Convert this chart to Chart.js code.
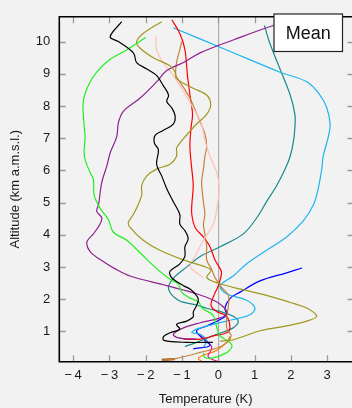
<!DOCTYPE html>
<html><head><meta charset="utf-8">
<script src="https://cdn.jsdelivr.net/npm/chart.js@4/dist/chart.umd.min.js"></script>
<style>html,body{margin:0;padding:0;background:#f2f2f2;}#wrap{width:352px;height:408px;position:relative;}</style>
</head><body><div id="wrap"><canvas id="c"></canvas></div>
<script>
const xTicks = [-4,-3,-2,-1,0,1,2,3];
const yTicks = [1,2,3,4,5,6,7,8,9,10];
const xTitle = 'Temperature (K)';
const yTitle = 'Altitude (km a.m.s.l.)';
const panelLabel = 'Mean';

// [temperature (K), altitude (km)]
const black = [[-2.66,10.62],[-2.98,10.15],[-2.75,10.0],[-2.34,9.65],[-2.25,9.35],[-1.97,9.15],[-1.70,8.95],[-1.52,8.64],[-1.37,8.34],[-1.42,8.14],[-1.28,7.94],[-1.19,7.69],[-1.24,7.44],[-1.52,7.24],[-1.74,7.09],[-1.76,6.85],[-1.65,6.64],[-1.70,6.19],[-1.56,5.83],[-1.42,5.43],[-1.24,5.03],[-1.06,4.63],[-1.06,4.33],[-0.92,4.13],[-0.83,3.88],[-0.92,3.63],[-0.92,3.33],[-1.06,3.10],[-1.33,2.87],[-1.33,2.75],[-1.24,2.62],[-0.96,2.42],[-0.78,2.32],[-0.64,2.17],[-0.55,2.00],[-0.60,1.80],[-0.69,1.60],[-0.69,1.45],[-0.87,1.32],[-1.15,1.22],[-1.06,1.07],[-1.33,0.96],[-1.51,0.84],[-1.50,0.72],[-0.87,0.66],[-0.15,0.66]];
const olive = [[-1.56,10.62],[-2.07,10.25],[-2.25,10.0],[-2.16,9.8],[-1.79,9.5],[-1.33,9.25],[-1.19,9.05],[-1.15,8.85],[-0.69,8.55],[-0.32,8.34],[-0.21,8.04],[-0.32,7.74],[-0.60,7.44],[-0.87,7.1],[-1.06,6.85],[-1.15,6.69],[-1.15,6.44],[-1.33,6.19],[-1.70,6.04],[-1.97,5.83],[-2.11,5.53],[-2.11,5.23],[-2.25,4.83],[-2.34,4.63],[-2.48,4.38],[-2.43,4.23],[-2.07,3.83],[-1.61,3.52],[-0.96,3.22],[-0.40,3.02],[-0.20,2.9],[-0.32,2.67],[0.05,2.48],[0.41,2.37],[1.33,2.12],[2.07,1.87],[2.45,1.72],[2.71,1.47],[2.44,1.32],[1.88,1.17],[1.15,1.02],[0.60,0.81],[0.32,0.72],[0.05,0.7]];
const green = [[-2.0,10.13],[-2.52,9.75],[-2.98,9.45],[-3.35,9.05],[-3.58,8.64],[-3.72,8.14],[-3.70,7.44],[-3.67,7.04],[-3.69,6.44],[-3.53,5.93],[-3.44,5.73],[-3.42,5.23],[-3.26,4.83],[-3.03,4.48],[-2.89,4.08],[-2.52,3.83],[-2.1,3.38],[-1.70,2.95],[-1.33,2.62],[-1.10,2.47],[-1.01,2.22],[-0.80,2.05],[-0.55,1.92],[-0.44,1.72],[-0.14,1.5],[-0.06,1.2],[0.05,0.86],[0.32,0.66],[0.37,0.51],[0.18,0.31],[-0.18,0.17],[-0.37,0.19],[-0.41,0.33]];
const purple = [[2.6,10.83],[1.52,10.5],[0.41,10.05],[-0.50,9.65],[-0.96,9.35],[-1.42,9.1],[-1.70,8.75],[-2.16,8.24],[-2.61,7.84],[-2.75,7.49],[-2.80,7.04],[-2.98,6.54],[-3.07,6.14],[-3.21,5.63],[-3.30,4.93],[-3.35,4.73],[-3.21,4.53],[-3.26,4.33],[-3.44,4.03],[-3.62,3.78],[-3.53,3.48],[-3.17,3.17],[-2.85,2.95],[-2.43,2.72],[-1.42,2.42],[-0.60,2.17],[-0.1,1.95],[0.15,1.75],[0.23,1.57],[0.05,1.42],[-0.50,1.27],[-0.96,1.11],[-1.24,0.91],[-1.10,0.8],[-0.60,0.76]];
const red = [[-1.28,10.68],[-1.06,10.25],[-0.92,9.75],[-0.85,8.95],[-0.78,8.34],[-0.71,7.74],[-0.75,7.34],[-0.78,6.9],[-0.78,6.64],[-0.73,6.04],[-0.69,5.53],[-0.73,4.93],[-0.73,4.63],[-0.64,4.23],[-0.41,3.93],[-0.23,3.63],[-0.09,3.22],[0.05,2.95],[0.09,2.82],[0,2.42],[-0.12,2.12],[-0.2,1.8],[-0.05,1.62],[0.23,1.47],[0.32,1.11],[0.23,0.96],[-0.14,0.86],[-0.50,0.76],[-0.96,0.76]];
const pink = [[-1.72,10.15],[-1.70,9.75],[-1.52,9.35],[-1.24,8.95],[-0.96,8.45],[-0.69,7.94],[-0.46,7.44],[-0.37,6.94],[-0.23,6.44],[-0.04,5.93],[0.02,5.43],[-0.05,4.73],[-0.14,4.33],[-0.41,3.83],[-0.60,3.42],[-0.78,3.02],[-0.69,2.9],[-0.41,2.67]];
const peru = [[-1.01,10.0],[-1.06,9.75],[-1.15,9.35],[-1.17,8.95],[-1.06,8.75],[-0.78,8.24],[-0.55,7.64],[-0.37,7.14],[-0.32,6.74],[-0.37,6.44],[-0.41,6.04],[-0.46,5.63],[-0.41,5.03],[-0.37,4.63],[-0.41,4.33],[-0.37,4.03],[-0.32,3.63],[-0.32,3.22],[-0.18,2.92],[-0.09,2.67],[0.09,2.37],[0.28,2.12],[0.28,1.82],[0.23,1.42],[0.23,1.11],[0.35,0.85],[0.1,0.55],[-0.5,0.35],[-1.2,0.15],[-1.55,0.1]];
const sky = [[-1.24,10.43],[0.23,9.74],[1.70,9.05],[2.44,8.75],[2.80,8.34],[2.99,7.94],[3.08,7.44],[3.03,7.04],[2.89,6.44],[2.85,6.04],[2.75,5.43],[2.62,4.93],[2.34,4.43],[1.88,3.93],[1.33,3.52],[0.8,3.12],[0.41,2.72],[0.05,2.42],[0.23,2.17],[0.78,1.97],[1.01,1.72],[0.87,1.52],[0.41,1.37],[-0.14,1.22],[-0.60,1.07],[-0.73,0.96],[-0.5,0.91],[-0.32,0.71],[-0.41,0.51]];
const teal = [[1.27,10.5],[1.42,9.95],[1.70,9.15],[1.98,8.34],[2.11,7.74],[2.11,7.34],[2.07,6.9],[1.98,6.44],[1.84,6.04],[1.61,5.53],[1.33,5.03],[1.06,4.53],[0.69,4.03],[0.05,3.63],[-0.50,3.33],[-0.85,3.02],[-1.24,2.65],[-1.37,2.32],[-1.10,1.97],[-0.60,1.82],[-0.32,1.72],[0.32,1.52],[0.55,1.32],[0.41,1.11],[-0.05,0.91],[-0.60,0.66],[-0.92,0.53]];
const blue = [[2.31,2.97],[1.88,2.82],[1.15,2.57],[0.60,2.22],[0.32,2.02],[0.18,1.72],[0.23,1.52],[0.05,1.37],[-0.32,1.17],[-0.60,1.02],[-0.41,0.76],[-0.23,0.56],[-0.69,0.46]];
const magenta = [[-0.60,0.96],[-0.37,0.76],[-0.18,0.51],[-0.28,0.21],[0.0,0.06]];
const orange = [[0.32,0.85],[0.23,0.66],[-0.05,0.41],[-0.41,0.26],[-0.55,0.16],[-0.45,0.06]];
const sienna = [[-1.56,0.11],[-1.20,0.14]];

const seriesList = [
  ['Profile 1', black, '#000000', 1.2],
  ['Profile 2', olive, '#a0981e', 1.2],
  ['Profile 3', green, '#1ef01e', 1.2],
  ['Profile 4', purple, '#8e1f8e', 1.2],
  ['Profile 5', pink, '#ffc0b8', 1.2],
  ['Profile 6', peru, '#c8803c', 1.2],
  ['Profile 7', red, '#ff0000', 1.2],
  ['Profile 8', sky, '#1eb4f0', 1.2],
  ['Profile 9', teal, '#178a8a', 1.2],
  ['Profile 10', blue, '#0000ff', 1.2],
  ['Profile 11', magenta, '#f0109a', 1.2],
  ['Profile 12', orange, '#ff8000', 1.2],
  ['Profile 13', sienna, '#a0602a', 2.5]
];

const FONT = "'Liberation Sans', Arial, Helvetica, sans-serif";
const fmt = v => v < 0 ? '\u2212\u2009' + Math.abs(v) : String(v);

const framePlugin = {
  id: 'frame',
  beforeDraw(chart) {
    const c = chart.ctx; c.save(); c.fillStyle = '#f2f2f2'; c.fillRect(0, 0, chart.width, chart.height); c.restore();
  },
  afterDraw(chart) {
    const {ctx, chartArea: a, scales: {x, y}} = chart;
    ctx.save();
    ctx.strokeStyle = '#9a9a9a'; ctx.lineWidth = 1.3;
    const L = 6.5;
    xTicks.forEach(v => {
      const px = Math.round(x.getPixelForValue(v)) + 0.5;
      ctx.beginPath(); ctx.moveTo(px, a.top); ctx.lineTo(px, a.top + L);
      ctx.moveTo(px, a.bottom); ctx.lineTo(px, a.bottom - L); ctx.stroke();
    });
    yTicks.forEach(v => {
      const py = Math.round(y.getPixelForValue(v)) + 0.5;
      ctx.beginPath(); ctx.moveTo(a.left, py); ctx.lineTo(a.left + L, py);
      ctx.moveTo(a.right + 2, py); ctx.lineTo(a.right + 2 - L, py); ctx.stroke();
    });
    ctx.strokeStyle = '#000'; ctx.lineWidth = 1.6;
    ctx.beginPath();
    ctx.moveTo(a.right + 5, a.top); ctx.lineTo(a.left, a.top); ctx.lineTo(a.left, a.bottom); ctx.lineTo(a.right + 5, a.bottom);
    ctx.stroke();
    // panel label box
    const bx = 274, by = 14, bw = 68.5, bh = 37.5;
    ctx.fillStyle = '#ffffff'; ctx.fillRect(bx, by, bw, bh);
    ctx.strokeStyle = '#222'; ctx.lineWidth = 1.2; ctx.strokeRect(bx, by, bw, bh);
    ctx.fillStyle = '#111'; ctx.font = '18px ' + FONT; ctx.textAlign = 'center'; ctx.textBaseline = 'middle';
    ctx.fillText(panelLabel, bx + bw / 2, by + bh / 2 + 1);
    ctx.restore();
  }
};

new Chart(document.getElementById('c'), {
  type: 'scatter',
  data: {
    datasets: seriesList.map(([label, pts, color, w]) => ({
      label,
      data: pts.map(p => ({x: p[0], y: p[1]})),
      showLine: true,
      borderColor: color,
      backgroundColor: color,
      borderWidth: w,
      pointRadius: 0,
      tension: 0.35,
      fill: false
    }))
  },
  options: {
    responsive: true,
    maintainAspectRatio: false,
    animation: false,
    layout: {padding: {top: 6, right: 0, left: 0, bottom: 0}},
    plugins: {legend: {display: false}, tooltip: {enabled: false}},
    scales: {
      x: {
        type: 'linear', min: -4.38, max: 3.683,
        afterBuildTicks: s => { s.ticks = xTicks.map(v => ({value: v})); },
        afterFit: s => { s.height = 46.3; },
        border: {display: false},
        grid: {drawTicks: false, color: ctx => (ctx.tick && ctx.tick.value === 0) ? '#b0b0b0' : 'rgba(0,0,0,0)', lineWidth: 1.2},
        ticks: {padding: 6, autoSkip: false, maxRotation: 0, color: '#1a1a1a', font: {size: 13, family: FONT}, callback: v => fmt(v)},
        title: {display: true, text: xTitle, color: '#1a1a1a', font: {size: 13, family: FONT}, padding: {top: 0, bottom: 1}}
      },
      y: {
        type: 'linear', min: 0.06, max: 10.77,
        afterBuildTicks: s => { s.ticks = yTicks.map(v => ({value: v})); },
        afterFit: s => { s.width = 59.3; },
        border: {display: false},
        grid: {display: false, drawTicks: false},
        ticks: {padding: 9, autoSkip: false, color: '#1a1a1a', font: {size: 13, family: FONT}, callback: v => fmt(v)},
        title: {display: true, text: yTitle, color: '#1a1a1a', font: {size: 13, family: FONT}, padding: {top: 8, bottom: 0}}
      }
    }
  },
  plugins: [framePlugin]
});
</script>
</body></html>
